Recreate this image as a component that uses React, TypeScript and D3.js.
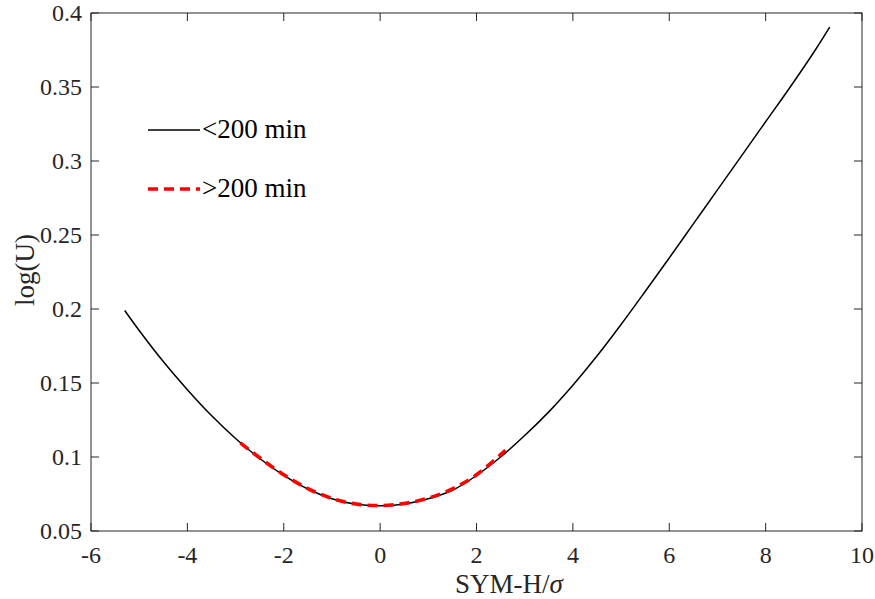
import React, { useEffect, useRef } from 'react';
import * as d3 from 'd3';

// black curve (<200 min)
const shortX = [-5.3, -5, -4.5, -4, -3.5, -3, -2.5, -2, -1.5, -1, -0.5, 0, 0.5, 1, 1.5, 2, 2.5, 3, 3.5, 4, 4.5, 5, 5.5, 6, 6.5, 7, 7.5, 8, 8.5, 9, 9.33];
const shortY = [0.199, 0.1855, 0.1645, 0.1455, 0.128, 0.1125, 0.099, 0.0876, 0.0784, 0.0718, 0.068, 0.067, 0.0683, 0.0718, 0.0775, 0.0875, 0.1, 0.1145, 0.1305, 0.1485, 0.1682, 0.1895, 0.2118, 0.2345, 0.2575, 0.2805, 0.3035, 0.3265, 0.3495, 0.3735, 0.3905];

// red dashed curve (>200 min)
const longX = [-2.9, -2.5, -2, -1.5, -1, -0.5, 0, 0.5, 1, 1.5, 2, 2.6];
const longY = [0.1095, 0.0995, 0.088, 0.0787, 0.072, 0.0682, 0.0672, 0.0686, 0.0722, 0.0785, 0.088, 0.1045];

const xTicks = [-6, -4, -2, 0, 2, 4, 6, 8, 10];
const yTicks = [0.05, 0.1, 0.15, 0.2, 0.25, 0.3, 0.35, 0.4];

const seriesLabels = ['<200 min', '>200 min'];

const App = () => {
  const svgRef = useRef(null);

  useEffect(() => {
    const width = 875;
    const height = 599;
    const m = { left: 91, right: 862, top: 13, bottom: 531 };
    const font = "'Times New Roman', 'Liberation Serif', serif";
    const axisColor = '#262626';

    const svg = d3.select(svgRef.current)
      .attr('width', width)
      .attr('height', height);
    svg.selectAll('*').remove();

    const x = d3.scaleLinear().domain([-6, 10]).range([m.left, m.right]);
    const y = d3.scaleLinear().domain([0.05, 0.4]).range([m.bottom, m.top]);

    svg.append('rect')
      .attr('width', width).attr('height', height).attr('fill', 'white');

    const line = d3.line()
      .x(d => x(d[0]))
      .y(d => y(d[1]))
      .curve(d3.curveCatmullRom);

    svg.append('path')
      .datum(shortX.map((v, i) => [v, shortY[i]]))
      .attr('d', line)
      .attr('fill', 'none')
      .attr('stroke', 'black')
      .attr('stroke-width', 1.5);

    svg.append('path')
      .datum(longX.map((v, i) => [v, longY[i]]))
      .attr('d', line)
      .attr('fill', 'none')
      .attr('stroke', '#ff0000')
      .attr('stroke-width', 3.6)
      .attr('stroke-dasharray', '10,6');

    // box
    svg.append('rect')
      .attr('x', m.left).attr('y', m.top)
      .attr('width', m.right - m.left).attr('height', m.bottom - m.top)
      .attr('fill', 'none')
      .attr('stroke', axisColor)
      .attr('stroke-width', 1);

    const tl = 8;
    xTicks.forEach(t => {
      svg.append('line')
        .attr('x1', x(t)).attr('x2', x(t))
        .attr('y1', m.bottom).attr('y2', m.bottom - tl)
        .attr('stroke', axisColor);
      svg.append('line')
        .attr('x1', x(t)).attr('x2', x(t))
        .attr('y1', m.top).attr('y2', m.top + tl)
        .attr('stroke', axisColor);
      svg.append('text')
        .attr('x', x(t)).attr('y', 563)
        .attr('text-anchor', 'middle')
        .attr('font-family', font).attr('font-size', 24)
        .attr('fill', axisColor)
        .text(t);
    });

    yTicks.forEach(t => {
      svg.append('line')
        .attr('x1', m.left).attr('x2', m.left + tl)
        .attr('y1', y(t)).attr('y2', y(t))
        .attr('stroke', axisColor);
      svg.append('line')
        .attr('x1', m.right).attr('x2', m.right - tl)
        .attr('y1', y(t)).attr('y2', y(t))
        .attr('stroke', axisColor);
      svg.append('text')
        .attr('x', 82).attr('y', y(t))
        .attr('dy', '0.33em')
        .attr('text-anchor', 'end')
        .attr('font-family', font).attr('font-size', 24)
        .attr('fill', axisColor)
        .text(d3.format('~g')(t));
    });

    // axis labels
    const xl = svg.append('text')
      .attr('x', 455).attr('y', 593)
      .attr('font-family', font).attr('font-size', 27)
      .attr('fill', axisColor);
    xl.append('tspan').text('SYM-H/');
    xl.append('tspan').attr('font-style', 'italic').text('σ');

    svg.append('text')
      .attr('transform', `translate(34, 270) rotate(-90)`)
      .attr('text-anchor', 'middle')
      .attr('font-family', font).attr('font-size', 27)
      .attr('fill', axisColor)
      .text('log(U)');

    // legend
    const leg = [
      { y: 130, color: 'black', w: 1.5, dash: null },
      { y: 189, color: '#ff0000', w: 3.6, dash: '10,6' }
    ];
    leg.forEach((l, i) => {
      svg.append('line')
        .attr('x1', 148).attr('x2', 200)
        .attr('y1', l.y).attr('y2', l.y)
        .attr('stroke', l.color)
        .attr('stroke-width', l.w)
        .attr('stroke-dasharray', l.dash);
      svg.append('text')
        .attr('x', 202).attr('y', l.y + 8)
        .attr('font-family', font).attr('font-size', 27)
        .attr('fill', 'black')
        .text(seriesLabels[i]);
    });
  }, []);

  return <svg ref={svgRef} style={{ position: 'absolute', left: 0, top: 0 }} />;
};

export default App;
